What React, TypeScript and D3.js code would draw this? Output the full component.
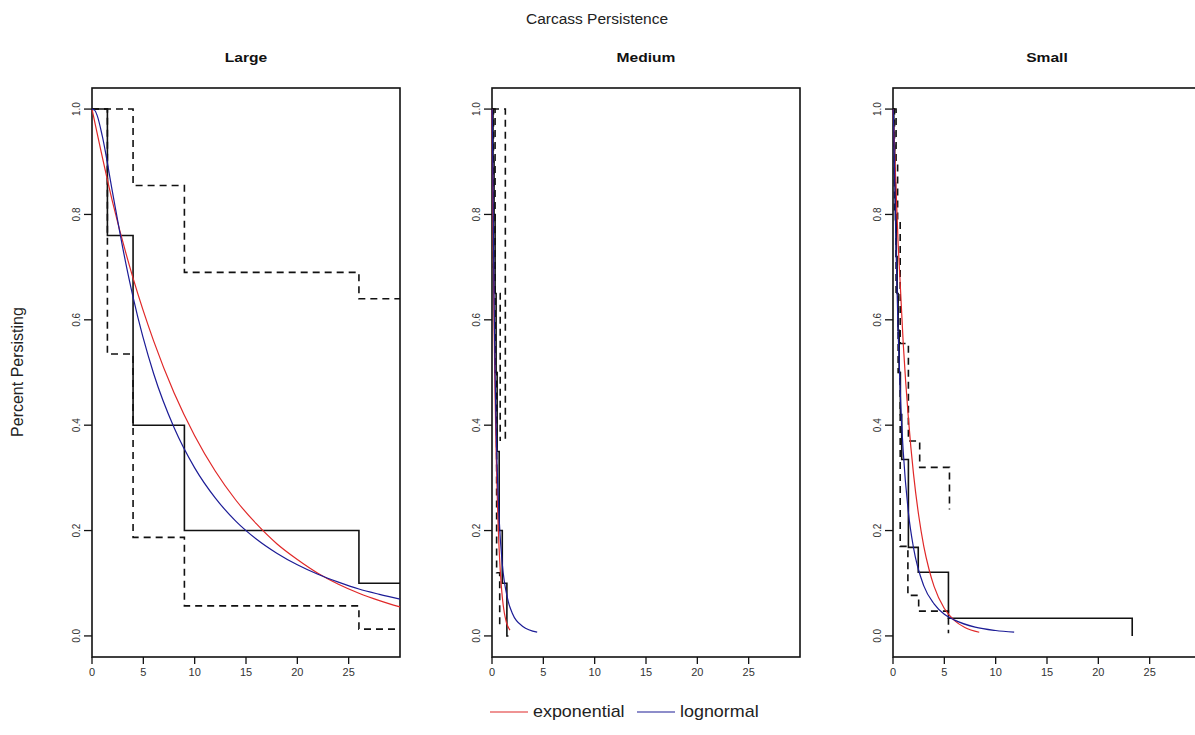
import React, { useRef, useEffect } from "react";
import * as d3 from "d3";

// panel names
const panelNames = ["Large", "Medium", "Small"];
const xTicks = [0, 5, 10, 15, 20, 25];
const yTicks = [0, 0.2, 0.4, 0.6, 0.8, 1.0];
const legendLabels = ["exponential", "lognormal"];

// Large: Kaplan-Meier + confidence bands (step), fitted curves
const largeKmTime = [0, 1.5, 4, 9, 26];
const largeKmSurv = [1.0, 0.76, 0.4, 0.2, 0.1];
const largeUpTime = [0, 4, 9, 26];
const largeUpSurv = [1.0, 0.855, 0.69, 0.64];
const largeLoTime = [0, 1.5, 4, 9, 26];
const largeLoSurv = [1.0, 0.535, 0.187, 0.057, 0.013];
const largeExpTime = [0, 2, 4, 6, 8, 10, 12, 14, 16, 18, 20, 22, 24, 26, 28, 30];
const largeExpSurv = [1.0, 0.824, 0.679, 0.56, 0.461, 0.38, 0.313, 0.258, 0.213, 0.175, 0.145, 0.119, 0.098, 0.081, 0.067, 0.055];
const largeLogTime = [0, 0.25, 0.5, 1, 2, 3, 4, 6, 8, 10, 12, 14, 16, 18, 20, 22, 24, 26, 28, 30];
const largeLogSurv = [1.0, 0.998, 0.988, 0.949, 0.842, 0.736, 0.643, 0.498, 0.395, 0.319, 0.262, 0.218, 0.184, 0.157, 0.135, 0.117, 0.102, 0.089, 0.079, 0.07];

// Medium
const medKmTime = [0, 0.1, 0.2, 0.3, 0.4, 0.5, 0.7, 1.0, 1.45];
const medKmSurv = [1.0, 0.9, 0.8, 0.65, 0.5, 0.35, 0.2, 0.1, 0.0];
const medUpTime = [0, 1.3];
const medUpSurv = [1.0, 0.37];
const medUp2Time = [0, 0.3, 0.8];
const medUp2Surv = [1.0, 0.65, 0.37];
const medLoTime = [0, 0.15, 0.3, 0.45, 0.75];
const medLoSurv = [1.0, 0.7, 0.5, 0.12, 0.02];
const medExpTime = [0, 0.1, 0.2, 0.3, 0.4, 0.5, 0.6, 0.8, 1.0, 1.2, 1.4, 1.75];
const medExpSurv = [1.0, 0.771, 0.595, 0.458, 0.353, 0.273, 0.21, 0.125, 0.074, 0.044, 0.026, 0.011];
const medLogTime = [0, 0.02, 0.05, 0.1, 0.2, 0.3, 0.4, 0.5, 0.7, 1.0, 1.5, 2, 3, 4.4];
const medLogSurv = [1.0, 0.993, 0.948, 0.841, 0.644, 0.5, 0.397, 0.321, 0.221, 0.137, 0.072, 0.042, 0.018, 0.0073];

// Small
const smallKmTime = [0, 0.08, 0.16, 0.24, 0.32, 0.4, 0.5, 0.6, 0.72, 0.85, 1.5, 2.46, 5.4, 23.3];
const smallKmSurv = [1.0, 0.93, 0.86, 0.79, 0.72, 0.65, 0.58, 0.5, 0.42, 0.335, 0.168, 0.121, 0.0335, 0.0];
const smallUpTime = [0, 0.3, 0.45, 0.7, 1.5, 2.6, 5.5];
const smallUpSurv = [1.0, 0.9, 0.79, 0.555, 0.37, 0.32, 0.24];
const smallLoTime = [0, 0.15, 0.3, 0.5, 0.7, 1.45, 2.5, 5.4];
const smallLoSurv = [1.0, 0.8, 0.65, 0.5, 0.17, 0.077, 0.047, 0.005];
const smallExpTime = [0, 0.5, 1, 1.5, 2, 2.5, 3, 3.5, 4, 5, 6, 7, 8.4];
const smallExpSurv = [1.0, 0.745, 0.554, 0.413, 0.307, 0.229, 0.17, 0.127, 0.094, 0.052, 0.029, 0.016, 0.007];
const smallLogTime = [0, 0.05, 0.1, 0.2, 0.3, 0.5, 0.75, 1, 1.5, 2, 3, 4, 5, 6, 8, 10, 11.8];
const smallLogSurv = [1.0, 0.983, 0.938, 0.831, 0.732, 0.576, 0.441, 0.349, 0.234, 0.167, 0.095, 0.061, 0.041, 0.03, 0.0167, 0.0103, 0.0071];

const panelData = [
  {
    steps: [
      { t: largeUpTime, s: largeUpSurv, end: 30, dash: true },
      { t: largeLoTime, s: largeLoSurv, end: 30, dash: true },
      { t: largeKmTime, s: largeKmSurv, end: 30, dash: false },
    ],
    exp: [largeExpTime, largeExpSurv],
    logn: [largeLogTime, largeLogSurv],
  },
  {
    steps: [
      { t: medUpTime, s: medUpSurv, end: 1.3, dash: true },
      { t: medUp2Time, s: medUp2Surv, end: 0.8, dash: true },
      { t: medLoTime, s: medLoSurv, end: 0.75, dash: true },
      { t: medKmTime, s: medKmSurv, end: 1.6, dash: false },
    ],
    exp: [medExpTime, medExpSurv],
    logn: [medLogTime, medLogSurv],
  },
  {
    steps: [
      { t: smallUpTime, s: smallUpSurv, end: 5.5, dash: true },
      { t: smallLoTime, s: smallLoSurv, end: 5.4, dash: true },
      { t: smallKmTime, s: smallKmSurv, end: 23.3, dash: false },
    ],
    exp: [smallExpTime, smallExpSurv],
    logn: [smallLogTime, smallLogSurv],
  },
];

const RED = "#e02828";
const BLUE = "#1c1c96";
const FONT = "'Liberation Sans', Arial, sans-serif";

export default function App() {
  const svgRef = useRef<SVGSVGElement>(null);

  useEffect(() => {
    const w = 1195;
    const h = 735;
    const svg = d3.select(svgRef.current).attr("width", w).attr("height", h);
    svg.selectAll("*").remove();
    svg.append("rect").attr("width", w).attr("height", h).attr("fill", "white");

    const panelLeft = [92, 492, 893];
    const pw = 308;
    const top = 88;
    const bottom = 657;

    // main title
    svg.append("text")
      .attr("transform", "translate(597,24)")
      .attr("text-anchor", "middle")
      .style("font-family", FONT)
      .style("font-size", "15.5px")
      .attr("fill", "#222")
      .text("Carcass Persistence");

    // y label
    svg.append("text")
      .attr("transform", "translate(23,372) rotate(-90)")
      .attr("text-anchor", "middle")
      .style("font-family", FONT)
      .style("font-size", "16px")
      .attr("fill", "#222")
      .text("Percent Persisting");

    panelNames.forEach((name, i) => {
      const left = panelLeft[i];
      const x = d3.scaleLinear().domain([0, 30]).range([left, left + pw]);
      const y = d3.scaleLinear().domain([-0.04, 1.04]).range([bottom, top]);
      const g = svg.append("g");
      const d = panelData[i];

      // panel title
      g.append("text")
        .attr("transform", `translate(${left + pw / 2},62) scale(1.2,1)`)
        .attr("text-anchor", "middle")
        .style("font-family", FONT)
        .style("font-size", "13px")
        .style("font-weight", "bold")
        .attr("fill", "#111")
        .text(name);

      // box
      g.append("rect")
        .attr("x", left).attr("y", top)
        .attr("width", pw).attr("height", bottom - top)
        .attr("fill", "none").attr("stroke", "#111").attr("stroke-width", 1.6);

      // step lines (KM + CI)
      const stepLine = d3
        .line<[number, number]>()
        .x((p) => x(p[0]))
        .y((p) => y(p[1]))
        .curve(d3.curveStepAfter);
      d.steps.forEach((st) => {
        const pts: [number, number][] = st.t.map((t, k) => [t, st.s[k]]);
        pts.push([st.end, st.s[st.s.length - 1]]);
        g.append("path")
          .attr("d", stepLine(pts))
          .attr("fill", "none")
          .attr("stroke", "#111")
          .attr("stroke-width", 1.6)
          .attr("stroke-dasharray", st.dash ? "7,5" : null);
      });

      // fitted curves
      const curve = d3
        .line<[number, number]>()
        .x((p) => x(p[0]))
        .y((p) => y(p[1]))
        .curve(d3.curveMonotoneX);
      const expPts: [number, number][] = d.exp[0].map((t, k) => [t, d.exp[1][k]]);
      const logPts: [number, number][] = d.logn[0].map((t, k) => [t, d.logn[1][k]]);
      g.append("path").attr("d", curve(expPts)).attr("fill", "none")
        .attr("stroke", RED).attr("stroke-width", 1.2);
      g.append("path").attr("d", curve(logPts)).attr("fill", "none")
        .attr("stroke", BLUE).attr("stroke-width", 1.2);

      // x axis ticks
      xTicks.forEach((t) => {
        g.append("line")
          .attr("x1", x(t)).attr("x2", x(t))
          .attr("y1", bottom).attr("y2", bottom + 7)
          .attr("stroke", "#111").attr("stroke-width", 1.3);
        g.append("text")
          .attr("transform", `translate(${x(t)},${bottom + 19}) scale(1.1,1)`)
          .attr("text-anchor", "middle")
          .style("font-family", FONT)
          .style("font-size", "10px")
          .attr("fill", "#333")
          .text(t);
      });

      // y axis ticks
      yTicks.forEach((t) => {
        g.append("line")
          .attr("x1", left - 8).attr("x2", left)
          .attr("y1", y(t)).attr("y2", y(t))
          .attr("stroke", "#111").attr("stroke-width", 1.3);
        g.append("text")
          .attr("transform", `translate(${left - 12},${y(t)}) rotate(-90) scale(1,1.1)`)
          .attr("text-anchor", "middle")
          .style("font-family", FONT)
          .style("font-size", "10px")
          .attr("fill", "#333")
          .text(d3.format(".1f")(t));
      });
    });

    // legend
    const lg = svg.append("g");
    const ly = 712;
    const items = [
      { x0: 490, color: RED, label: legendLabels[0] },
      { x0: 637, color: BLUE, label: legendLabels[1] },
    ];
    items.forEach((it) => {
      lg.append("line")
        .attr("x1", it.x0).attr("x2", it.x0 + 38)
        .attr("y1", ly).attr("y2", ly)
        .attr("stroke", it.color).attr("stroke-width", 1.2);
      lg.append("text")
        .attr("transform", `translate(${it.x0 + 43},${ly + 5}) scale(1.12,1)`)
        .style("font-family", FONT)
        .style("font-size", "16px")
        .attr("fill", "#222")
        .text(it.label);
    });
  }, []);

  return (
    <svg ref={svgRef} style={{ position: "absolute", left: 0, top: 0 }}></svg>
  );
}
